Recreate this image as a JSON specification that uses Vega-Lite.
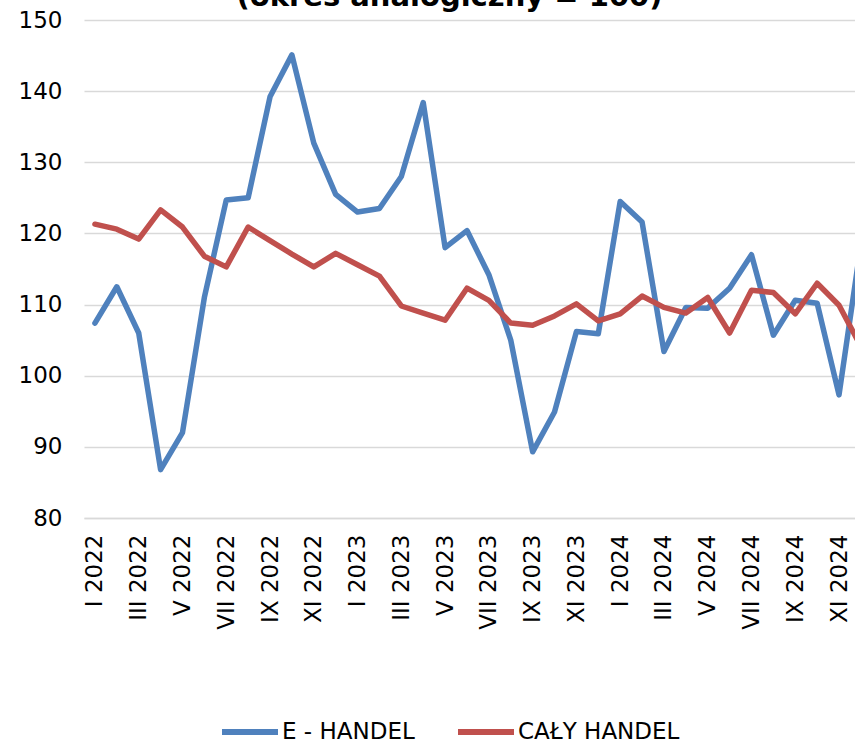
{
  "$schema": "https://vega.github.io/schema/vega-lite/v6.json",
  "autosize": {"type": "none"},
  "width": 771,
  "height": 498,
  "padding": {"left": 84, "top": 20, "right": 0, "bottom": 221},
  "background": "white",
  "title": {
    "text": "(okres analogiczny = 100)",
    "font": "DejaVu Sans",
    "fontSize": 29,
    "fontWeight": "bold",
    "color": "black",
    "anchor": "middle",
    "dx": -20,
    "offset": -3
  },
  "data": {
    "values": [
      {"i": 0, "m": "I 2022", "s": "E - HANDEL", "v": 107.4},
      {"i": 1, "m": "II 2022", "s": "E - HANDEL", "v": 112.5},
      {"i": 2, "m": "III 2022", "s": "E - HANDEL", "v": 106.0},
      {"i": 3, "m": "IV 2022", "s": "E - HANDEL", "v": 86.8},
      {"i": 4, "m": "V 2022", "s": "E - HANDEL", "v": 92.0},
      {"i": 5, "m": "VI 2022", "s": "E - HANDEL", "v": 111.0},
      {"i": 6, "m": "VII 2022", "s": "E - HANDEL", "v": 124.7},
      {"i": 7, "m": "VIII 2022", "s": "E - HANDEL", "v": 125.0},
      {"i": 8, "m": "IX 2022", "s": "E - HANDEL", "v": 139.2},
      {"i": 9, "m": "X 2022", "s": "E - HANDEL", "v": 145.1},
      {"i": 10, "m": "XI 2022", "s": "E - HANDEL", "v": 132.7},
      {"i": 11, "m": "XII 2022", "s": "E - HANDEL", "v": 125.5},
      {"i": 12, "m": "I 2023", "s": "E - HANDEL", "v": 123.0},
      {"i": 13, "m": "II 2023", "s": "E - HANDEL", "v": 123.5},
      {"i": 14, "m": "III 2023", "s": "E - HANDEL", "v": 128.0},
      {"i": 15, "m": "IV 2023", "s": "E - HANDEL", "v": 138.4},
      {"i": 16, "m": "V 2023", "s": "E - HANDEL", "v": 118.0},
      {"i": 17, "m": "VI 2023", "s": "E - HANDEL", "v": 120.4},
      {"i": 18, "m": "VII 2023", "s": "E - HANDEL", "v": 114.2},
      {"i": 19, "m": "VIII 2023", "s": "E - HANDEL", "v": 105.0},
      {"i": 20, "m": "IX 2023", "s": "E - HANDEL", "v": 89.3},
      {"i": 21, "m": "X 2023", "s": "E - HANDEL", "v": 94.9},
      {"i": 22, "m": "XI 2023", "s": "E - HANDEL", "v": 106.2},
      {"i": 23, "m": "XII 2023", "s": "E - HANDEL", "v": 105.9},
      {"i": 24, "m": "I 2024", "s": "E - HANDEL", "v": 124.5},
      {"i": 25, "m": "II 2024", "s": "E - HANDEL", "v": 121.6},
      {"i": 26, "m": "III 2024", "s": "E - HANDEL", "v": 103.4},
      {"i": 27, "m": "IV 2024", "s": "E - HANDEL", "v": 109.6},
      {"i": 28, "m": "V 2024", "s": "E - HANDEL", "v": 109.5},
      {"i": 29, "m": "VI 2024", "s": "E - HANDEL", "v": 112.3},
      {"i": 30, "m": "VII 2024", "s": "E - HANDEL", "v": 117.0},
      {"i": 31, "m": "VIII 2024", "s": "E - HANDEL", "v": 105.7},
      {"i": 32, "m": "IX 2024", "s": "E - HANDEL", "v": 110.6},
      {"i": 33, "m": "X 2024", "s": "E - HANDEL", "v": 110.2},
      {"i": 34, "m": "XI 2024", "s": "E - HANDEL", "v": 97.3},
      {"i": 35, "m": "XII 2024", "s": "E - HANDEL", "v": 118.5},
      {"i": 0, "m": "I 2022", "s": "CAŁY HANDEL", "v": 121.3},
      {"i": 1, "m": "II 2022", "s": "CAŁY HANDEL", "v": 120.6},
      {"i": 2, "m": "III 2022", "s": "CAŁY HANDEL", "v": 119.2},
      {"i": 3, "m": "IV 2022", "s": "CAŁY HANDEL", "v": 123.3},
      {"i": 4, "m": "V 2022", "s": "CAŁY HANDEL", "v": 120.9},
      {"i": 5, "m": "VI 2022", "s": "CAŁY HANDEL", "v": 116.8},
      {"i": 6, "m": "VII 2022", "s": "CAŁY HANDEL", "v": 115.3},
      {"i": 7, "m": "VIII 2022", "s": "CAŁY HANDEL", "v": 120.9},
      {"i": 8, "m": "IX 2022", "s": "CAŁY HANDEL", "v": 119.0},
      {"i": 9, "m": "X 2022", "s": "CAŁY HANDEL", "v": 117.1},
      {"i": 10, "m": "XI 2022", "s": "CAŁY HANDEL", "v": 115.3},
      {"i": 11, "m": "XII 2022", "s": "CAŁY HANDEL", "v": 117.2},
      {"i": 12, "m": "I 2023", "s": "CAŁY HANDEL", "v": 115.6},
      {"i": 13, "m": "II 2023", "s": "CAŁY HANDEL", "v": 114.0},
      {"i": 14, "m": "III 2023", "s": "CAŁY HANDEL", "v": 109.8},
      {"i": 15, "m": "IV 2023", "s": "CAŁY HANDEL", "v": 108.8},
      {"i": 16, "m": "V 2023", "s": "CAŁY HANDEL", "v": 107.8},
      {"i": 17, "m": "VI 2023", "s": "CAŁY HANDEL", "v": 112.3},
      {"i": 18, "m": "VII 2023", "s": "CAŁY HANDEL", "v": 110.6},
      {"i": 19, "m": "VIII 2023", "s": "CAŁY HANDEL", "v": 107.4},
      {"i": 20, "m": "IX 2023", "s": "CAŁY HANDEL", "v": 107.1},
      {"i": 21, "m": "X 2023", "s": "CAŁY HANDEL", "v": 108.4},
      {"i": 22, "m": "XI 2023", "s": "CAŁY HANDEL", "v": 110.1},
      {"i": 23, "m": "XII 2023", "s": "CAŁY HANDEL", "v": 107.7},
      {"i": 24, "m": "I 2024", "s": "CAŁY HANDEL", "v": 108.7},
      {"i": 25, "m": "II 2024", "s": "CAŁY HANDEL", "v": 111.2},
      {"i": 26, "m": "III 2024", "s": "CAŁY HANDEL", "v": 109.6},
      {"i": 27, "m": "IV 2024", "s": "CAŁY HANDEL", "v": 108.8},
      {"i": 28, "m": "V 2024", "s": "CAŁY HANDEL", "v": 111.0},
      {"i": 29, "m": "VI 2024", "s": "CAŁY HANDEL", "v": 106.0},
      {"i": 30, "m": "VII 2024", "s": "CAŁY HANDEL", "v": 112.0},
      {"i": 31, "m": "VIII 2024", "s": "CAŁY HANDEL", "v": 111.7},
      {"i": 32, "m": "IX 2024", "s": "CAŁY HANDEL", "v": 108.7},
      {"i": 33, "m": "X 2024", "s": "CAŁY HANDEL", "v": 113.0},
      {"i": 34, "m": "XI 2024", "s": "CAŁY HANDEL", "v": 109.9},
      {"i": 35, "m": "XII 2024", "s": "CAŁY HANDEL", "v": 104.1}
    ]
  },
  "mark": {"type": "line", "strokeWidth": 5.5, "strokeJoin": "round", "strokeCap": "round", "clip": true},
  "encoding": {
    "x": {
      "field": "i",
      "type": "quantitative",
      "scale": {"domain": [-0.5, 34.73], "nice": false, "zero": false},
      "axis": {
        "title": null,
        "values": [0, 2, 4, 6, 8, 10, 12, 14, 16, 18, 20, 22, 24, 26, 28, 30, 32, 34],
        "labelExpr": "['I','II','III','IV','V','VI','VII','VIII','IX','X','XI','XII'][datum.value % 12] + ' ' + (2022 + floor(datum.value / 12))",
        "labelAngle": -90,
        "labelAlign": "right",
        "labelBaseline": "middle",
        "labelPadding": 16,
        "labelFont": "DejaVu Sans",
        "labelFontSize": 23,
        "labelColor": "black",
        "labelOverlap": false,
        "labelFlush": false,
        "ticks": false,
        "grid": false,
        "domain": true,
        "domainColor": "#d9d9d9",
        "domainWidth": 1.5
      }
    },
    "y": {
      "field": "v",
      "type": "quantitative",
      "scale": {"domain": [80, 150], "nice": false, "zero": false},
      "axis": {
        "title": null,
        "values": [80, 90, 100, 110, 120, 130, 140, 150],
        "labelFont": "DejaVu Sans",
        "labelFontSize": 23,
        "labelColor": "black",
        "labelPadding": 22,
        "ticks": false,
        "domain": false,
        "grid": true,
        "gridColor": "#d9d9d9",
        "gridWidth": 1.5
      }
    },
    "color": {
      "field": "s",
      "type": "nominal",
      "scale": {"domain": ["E - HANDEL", "CAŁY HANDEL"], "range": ["#4f81bd", "#c0504d"]},
      "legend": {
        "title": null,
        "orient": "none",
        "direction": "horizontal",
        "legendX": 135,
        "legendY": 681,
        "padding": 0,
        "symbolType": "stroke",
        "symbolSize": 3136,
        "symbolStrokeWidth": 6,
        "labelFont": "DejaVu Sans",
        "labelFontSize": 23,
        "labelColor": "black",
        "labelOffset": 1,
        "columnPadding": 31,
        "labelLimit": 400
      }
    }
  },
  "config": {
    "view": {"stroke": null}
  }
}
